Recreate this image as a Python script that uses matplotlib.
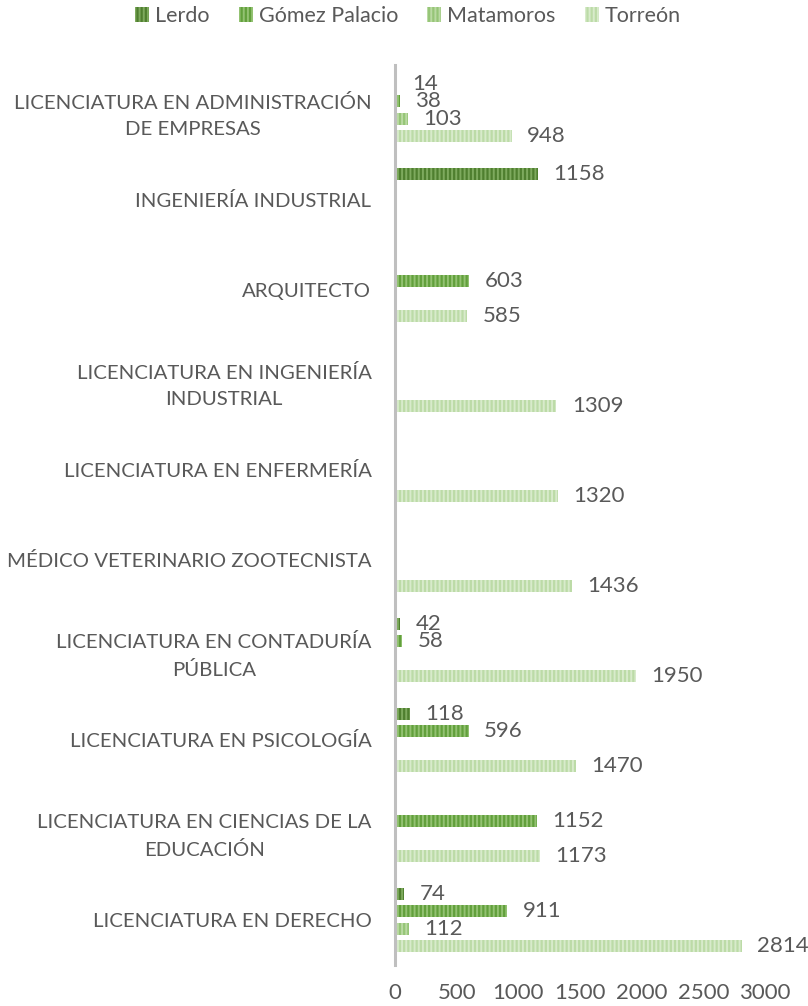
import numpy as np
import matplotlib.pyplot as plt

categories = [
    "LICENCIATURA EN ADMINISTRACIÓN\nDE EMPRESAS",
    "INGENIERÍA INDUSTRIAL",
    "ARQUITECTO",
    "LICENCIATURA EN INGENIERÍA\nINDUSTRIAL",
    "LICENCIATURA EN ENFERMERÍA",
    "MÉDICO VETERINARIO ZOOTECNISTA",
    "LICENCIATURA EN CONTADURÍA\nPÚBLICA",
    "LICENCIATURA EN PSICOLOGÍA",
    "LICENCIATURA EN CIENCIAS DE LA\nEDUCACIÓN",
    "LICENCIATURA EN DERECHO",
]
series = ["Lerdo", "Gómez Palacio", "Matamoros", "Torreón"]
# None = sin dato
lerdo = [14, 1158, None, None, None, None, 42, 118, None, 74]
gomez = [38, None, 603, None, None, None, 58, 596, 1152, 911]
matamoros = [103, None, None, None, None, None, None, None, None, 112]
torreon = [948, None, 585, 1309, 1320, 1436, 1950, 1470, 1173, 2814]
xticks = [0, 500, 1000, 1500, 2000, 2500, 3000]

faces = ["#4F7F2F", "#62A03C", "#96C577", "#BCDBA7"]
stripes = ["#7EAA5E", "#93C272", "#BADAA3", "#D8EBCB"]

plt.rcParams['font.family'] = ['Lato', 'DejaVu Sans']
plt.rcParams['hatch.linewidth'] = 1.4
txt = "#595959"
fs_cat = 14.7
fs_num = 16

fig = plt.figure(figsize=(8.08, 10.06), dpi=100)
ax = fig.add_axes([395 / 808, 1 - 965 / 1006, 370 / 808, 900 / 1006])

slot = 0.195
height = 0.135
idx = np.arange(len(categories))
for k, (name, vals) in enumerate(zip(series, [lerdo, gomez, matamoros, torreon])):
    ys = idx + (k - 1.5) * slot
    w = [v if v is not None else 0 for v in vals]
    ax.barh(ys, w, height=height, color=faces[k], edgecolor=stripes[k],
            linewidth=0, hatch='||||', label=name)
    for y, v in zip(ys, vals):
        if v is None:
            continue
        ax.annotate(str(v), (v, y), xytext=(11, 0), textcoords='offset points',
                    ha='left', va='center', fontsize=fs_num, color=txt,
                    annotation_clip=False)

ax.set_ylim(len(categories) - 0.5, -0.5)
ax.set_xlim(0, 3000)
ax.set_yticks(idx)
ax.set_yticklabels(categories, fontsize=fs_cat, color=txt,
                   multialignment='center', linespacing=1.65)
ax.set_xticks(xticks)
ax.set_xticklabels([str(t) for t in xticks], fontsize=fs_num, color=txt)
ax.tick_params(axis='y', length=0, pad=17)
ax.tick_params(axis='x', length=0, pad=13)
for s in ['top', 'right', 'bottom']:
    ax.spines[s].set_visible(False)
ax.spines['left'].set_color('#BFBFBF')
ax.spines['left'].set_linewidth(2.2)

fig.legend(loc='center', bbox_to_anchor=(408 / 808, 1 - 16 / 1006), ncol=4, frameon=False,
           fontsize=15.5, handlelength=0.65, handleheight=0.7, handletextpad=0.28,
           columnspacing=1.35, labelcolor=txt, borderpad=0)

fig.savefig('out.png', dpi=100)
